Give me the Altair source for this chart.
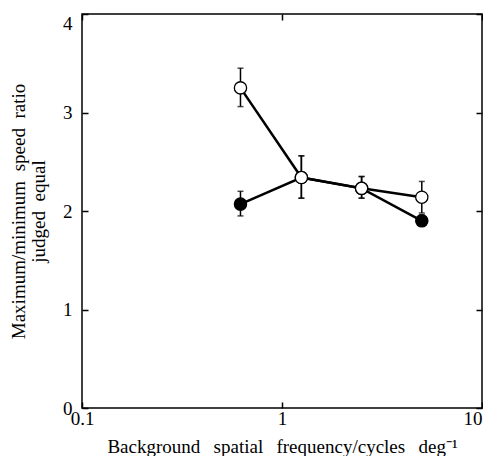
import altair as alt
import pandas as pd

# ---- data ----
freq = [0.62, 1.25, 2.5, 5.0]
open_y = [3.25, 2.34, 2.23, 2.14]
open_lo = [3.06, 2.13, 2.13, 1.98]
open_hi = [3.45, 2.56, 2.35, 2.30]
filled_y = [2.07, 2.34, 2.23, 1.90]
filled_lo = [1.95, 2.13, 2.13, 1.85]
filled_hi = [2.20, 2.56, 2.35, 1.96]
x_ticks = [0.1, 1, 10]
y_ticks = [0, 1, 2, 3, 4]

GAP = "\u2002\u2009"
x_title = f"Background{GAP}spatial{GAP}frequency/cycles{GAP}deg\u207b\u00b9"
y_title = ["Maximum/minimum\u2002speed\u2002ratio", "judged\u2002equal"]

df_open = pd.DataFrame({"freq": freq, "y": open_y, "lo": open_lo, "hi": open_hi})
df_filled = pd.DataFrame({"freq": freq, "y": filled_y, "lo": filled_lo, "hi": filled_hi})

FONT = "Liberation Serif"
xscale = alt.Scale(type="log", domain=[0.1, 10], nice=False)
yscale = alt.Scale(domain=[0, 4], nice=False, zero=False)

common_axis = dict(
    offset=-6, tickSize=6, domain=False, grid=False, tickColor="black",
    tickWidth=1.5, labelFont=FONT, labelFontSize=19, labelColor="black",
    titleFont=FONT, titleFontSize=19, titleFontWeight="normal", titleColor="black",
    format="~g", labelFlush=False,
)

X = alt.X("freq:Q", scale=xscale,
          axis=alt.Axis(values=x_ticks, labelPadding=1,
                        labelAlign={"expr": "datum.value >= 10 ? 'right' : 'center'"},
                        title=x_title, titlePadding=9, **common_axis))
Y = alt.Y("y:Q", scale=yscale,
          axis=alt.Axis(values=y_ticks, labelPadding=10,
                        labelBaseline={"expr": "datum.value >= 4 ? 'top' : 'middle'"},
                        title=y_title, titlePadding=14, titleLineHeight=20, **common_axis))


def series_layers(df, fill):
    base = alt.Chart(df)
    line = base.mark_line(color="black", strokeWidth=2.5).encode(x=X, y=Y)
    err = base.mark_rule(color="black", strokeWidth=1.5).encode(
        x=alt.X("freq:Q", scale=xscale), y=alt.Y("lo:Q", scale=yscale), y2="hi:Q")
    cap_lo = base.mark_tick(color="black", orient="horizontal", size=6, thickness=1.5).encode(
        x=alt.X("freq:Q", scale=xscale), y=alt.Y("lo:Q", scale=yscale))
    cap_hi = base.mark_tick(color="black", orient="horizontal", size=6, thickness=1.5).encode(
        x=alt.X("freq:Q", scale=xscale), y=alt.Y("hi:Q", scale=yscale))
    pts = base.mark_point(shape="circle", filled=True, fill=fill, stroke="black",
                          strokeWidth=1.3, size=150, opacity=1).encode(
        x=alt.X("freq:Q", scale=xscale), y=alt.Y("y:Q", scale=yscale))
    return [line, err, cap_lo, cap_hi, pts]


main = alt.layer(*(series_layers(df_filled, "black") + series_layers(df_open, "white")))

mirror = alt.Chart(df_open).mark_point(opacity=0).encode(
    x=alt.X("freq:Q", scale=xscale,
            axis=alt.Axis(orient="top", values=x_ticks, labels=False, title=None, **common_axis)),
    y=alt.Y("y:Q", scale=yscale,
            axis=alt.Axis(orient="right", values=y_ticks, labels=False, title=None, **common_axis)),
)

chart = alt.layer(main, mirror).resolve_scale(x="independent", y="independent").properties(
    width=400, height=394,
    autosize=alt.AutoSizeParams(type="none"),
    padding={"left": 74, "top": 6, "right": 1, "bottom": 48},
).configure(background="white", font=FONT).configure_view(
    stroke="black", strokeWidth=1.5
).configure_axis(labelFont=FONT, titleFont=FONT)

chart.save("out.html", embed_options={"renderer": "svg", "actions": False})
